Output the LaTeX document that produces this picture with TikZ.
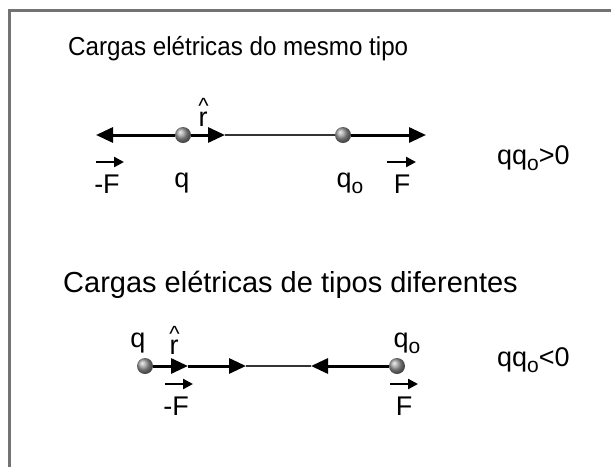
\documentclass[tikz,border=0pt]{standalone}
\usepackage{fontspec}
\setmainfont{Liberation Sans}
\usetikzlibrary{arrows.meta}
\newcommand{\subo}{\raisebox{-6pt}{\fontsize{21}{21}\selectfont o}}
\newcommand{\rhatlbl}{\ooalign{r\cr\hidewidth\kern1pt\raisebox{13pt}{\fontsize{22}{24}\selectfont\textasciicircum}\hidewidth\cr}}
\begin{document}
\begin{tikzpicture}[x=1pt,y=-1pt,
  ball/.style={circle,inner sep=0pt,minimum size=16pt,ball color=gray!80,draw=none},
  forcearrow/.style={line width=3pt,-{Triangle[length=17pt,width=15pt]}},
  thinline/.style={line width=1.1pt,black!80},
  vecarrow/.style={line width=2.4pt,-{Triangle[length=10pt,width=10pt]}},
  title/.style={anchor=base west,inner sep=0pt},
  lbl/.style={font=\fontsize{27}{30}\selectfont,anchor=base,inner sep=0pt}]
\useasboundingbox (0,0) rectangle (611,467);
\draw[line width=3pt,black!55] (9,467) -- (9,10) -- (611,10);

\node[title,font=\fontsize{26}{30}\selectfont] (t1) at (68,55) {\scalebox{0.93}[1]{Cargas elétricas do mesmo tipo}};
\node[title,font=\fontsize{29}{32}\selectfont] (t2) at (63,292) {Cargas elétricas de tipos diferentes};

% line 1
\node[ball] (q1) at (183,135) {};
\node[ball] (qo1) at (343,135) {};
\coordinate (L1) at (96,135);
\coordinate (R1) at (225,135);
\coordinate (F1) at (426,135);
\draw[thinline] (R1) -- (qo1);
\draw[forcearrow] (q1) -- (L1);
\draw[forcearrow] (q1) -- (R1);
\draw[forcearrow] (qo1) -- (F1);

\node[lbl] (rh1) at (203,126) {\rhatlbl};
\node[lbl] (mF1) at (107,193) {-F};
\coordinate (va1) at (96,162);
\coordinate (vb1) at (124,162);
\draw[vecarrow] (va1) -- (vb1);
\node[lbl] (ql1) at (182,187) {q};
\node[lbl] (qol1) at (350,187) {q\subo};
\node[lbl] (F1l) at (402,193) {F};
\coordinate (vc1) at (387,162);
\coordinate (vd1) at (416,162);
\draw[vecarrow] (vc1) -- (vd1);
\node[lbl,anchor=base west] (c1) at (497,164) {qq\subo{}>0};

% line 2
\node[ball] (q2) at (145,366) {};
\node[ball] (qo2) at (397,366) {};
\coordinate (a1) at (188,366);
\coordinate (a2) at (246,366);
\coordinate (a3) at (311,366);
\draw[thinline] (a2) -- (a3);
\draw[forcearrow] (q2) -- (a1);
\draw[forcearrow] (a1) -- (a2);
\draw[forcearrow] (qo2) -- (a3);

\node[lbl] (ql2) at (138,347) {q};
\node[lbl] (rh2) at (174,354) {\rhatlbl};
\node[lbl] (qol2) at (407,347) {q\subo};
\node[lbl] (mF2) at (176,415) {-F};
\coordinate (va2) at (165,384);
\coordinate (vb2) at (193,384);
\draw[vecarrow] (va2) -- (vb2);
\node[lbl] (F2l) at (404,415) {F};
\coordinate (vc2) at (390,384);
\coordinate (vd2) at (418,384);
\draw[vecarrow] (vc2) -- (vd2);
\node[lbl,anchor=base west] (c2) at (497,366) {qq\subo{}<0};
\end{tikzpicture}
\end{document}
